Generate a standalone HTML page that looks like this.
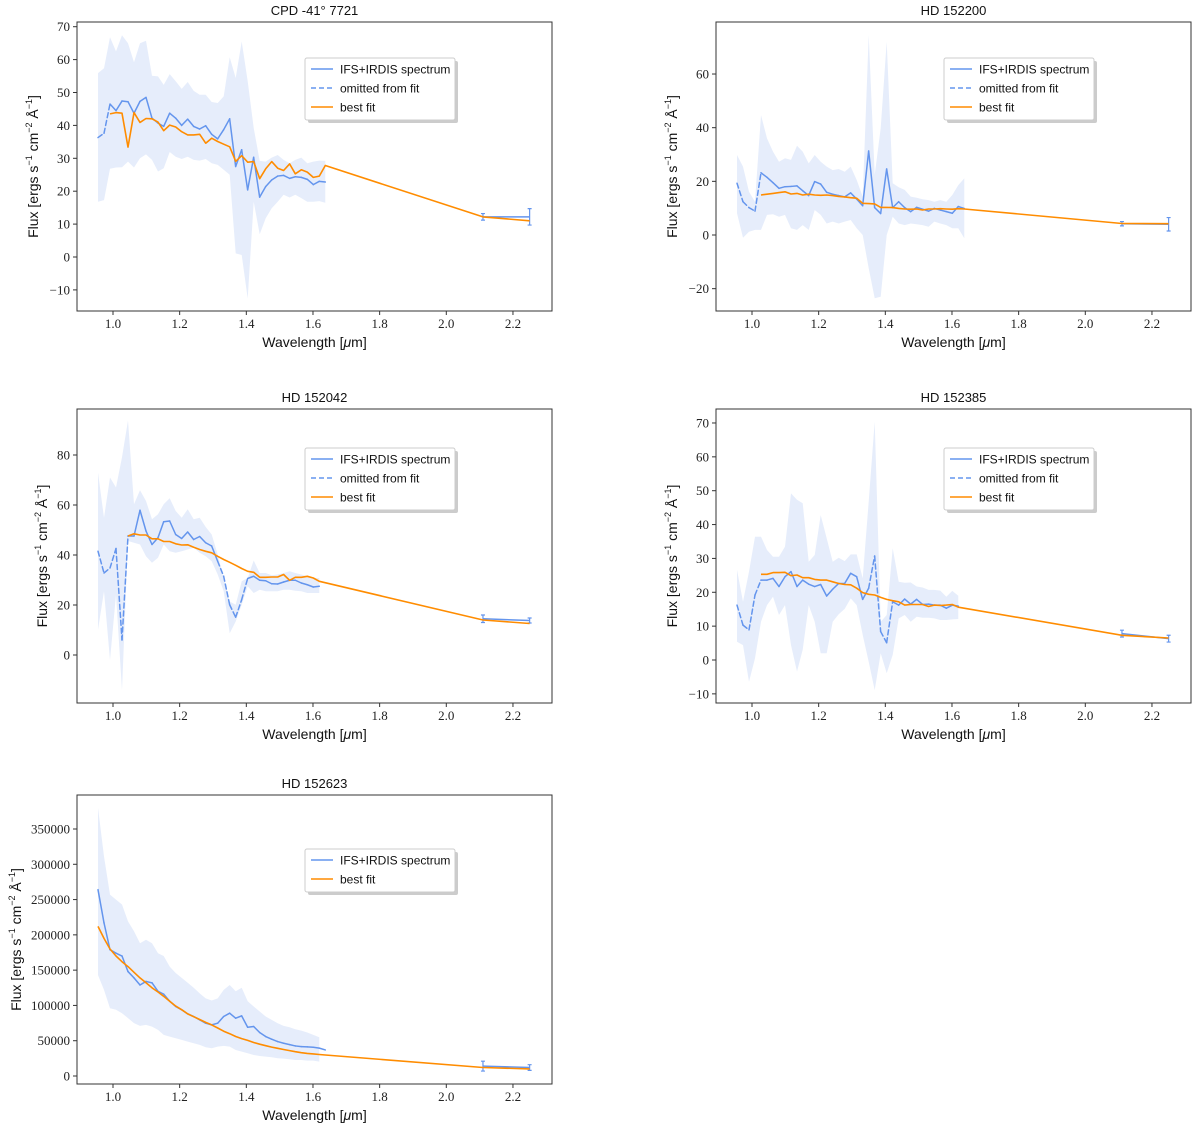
<!DOCTYPE html>
<html><head><meta charset="utf-8">
<style>
html,body{margin:0;padding:0;background:#fff;}
svg{display:block;}
.tick{font-family:"Liberation Serif","DejaVu Serif",serif;font-size:13px;fill:#222;}
.lab{font-family:"Liberation Sans","DejaVu Sans",sans-serif;font-size:14px;fill:#111;}
.ttl{font-family:"Liberation Sans","DejaVu Sans",sans-serif;font-size:13px;fill:#111;}
.leg{font-family:"Liberation Sans","DejaVu Sans",sans-serif;font-size:12px;fill:#111;}
</style></head>
<body>
<svg id="fig" width="1200" height="1126" viewBox="0 0 1200 1126" xmlns="http://www.w3.org/2000/svg"></svg>
<script>
// ---- shared data ----
const WL = [0.955,0.973,0.991,1.009,1.027,1.045,1.063,1.081,1.099,1.117,1.135,1.152,1.170,1.188,1.206,1.224,1.242,1.260,1.278,1.296,1.314,1.332,1.350,1.368,1.386,1.404,1.422,1.440,1.458,1.476,1.494,1.512,1.530,1.547,1.565,1.583,1.601,1.619,1.637];
const PHOT_WL = [2.11, 2.25];
const X_TICKS = [1.0,1.2,1.4,1.6,1.8,2.0,2.2];

// ---- panel 1: CPD -41 7721 ----
const p1Flux = [36.3,37.6,46.5,44.5,47.4,47.2,43.7,47.3,48.5,42.2,40.7,39.7,43.7,42.2,40.0,41.9,39.7,38.9,39.9,37.3,35.9,38.7,42.0,27.5,32.6,20.4,30.3,18.2,21.4,23.4,24.6,24.8,23.9,24.4,24.2,23.6,22.0,23.0,22.8];
const p1Hi = [55.9,57.4,66.8,62.5,67.4,65.0,59.2,65.0,65.7,55.1,54.9,52.3,55.6,53.4,51.1,53.2,50.5,49.3,49.3,47.1,46.8,48.8,60.7,54.4,65.5,53.4,39.2,29.2,29.0,30.2,31.0,29.5,28.5,29.5,30.2,28.5,29.0,29.3,29.2];
const p1Lo = [16.8,17.3,26.8,27.2,27.3,29.0,27.2,30.0,31.2,29.5,26.0,27.0,31.9,30.5,29.8,30.5,29.5,29.3,29.8,28.5,28.0,26.5,25.0,1.1,0.6,-12.6,16.8,6.9,11.8,14.8,16.8,18.9,18.1,18.9,17.9,16.8,16.8,17.0,16.5];
const p1FitStart = 2;
const p1Fit = [43.5,43.9,43.7,33.4,43.9,40.9,42.1,42.0,41.0,38.4,40.1,39.5,38.1,37.1,37.1,37.3,34.6,36.1,35.1,34.3,33.5,29.1,30.8,28.8,29.0,23.8,26.8,29.0,27.0,26.3,28.3,25.3,26.5,25.8,24.2,24.6,27.8];
const p1PhotFlux = [12.2, 12.2];
const p1PhotErr = [1.0, 2.5];
const p1PhotFit = [12.2, 11.0];
const p1Omitted = [[0,2]];
const p1YTicks = [-10,0,10,20,30,40,50,60,70];

// ---- panel 2: HD 152200 ----
const p2Flux = [19.3,12.4,10.2,8.9,23.2,21.5,19.5,17.4,18.0,18.1,18.3,16.5,14.7,19.9,19.0,15.9,15.2,14.7,14.2,15.7,13.4,10.9,31.3,10.2,8.0,24.6,10.2,12.4,10.2,8.7,10.3,9.6,8.9,9.9,9.3,8.7,8.1,10.6,9.9];
const p2Hi = [29.8,25.5,16.1,12.4,44.7,36.0,31.1,27.3,28.6,28.0,33.3,31.1,26.7,29.8,27.3,25.5,24.2,24.6,23.6,25.5,20.5,14.3,74.5,22.4,39.8,72.0,19.3,17.8,16.8,14.3,13.9,13.3,13.0,12.4,13.0,12.4,14.9,18.6,21.1];
const p2Lo = [8.1,-1.0,1.2,1.9,1.9,7.5,7.7,6.8,7.5,2.5,1.9,3.7,1.9,9.3,7.5,4.3,5.0,4.3,5.0,5.6,2.5,0,-12.4,-23.6,-23.0,0,6.8,4.3,3.7,4.3,4.0,3.7,3.1,5.0,4.3,3.7,2.5,2.5,-1.2];
const p2FitStart = 4;
const p2Fit = [14.9,15.2,15.5,15.8,16.1,15.3,15.5,14.9,15.2,14.9,14.8,14.9,14.7,14.4,14.2,13.9,13.7,11.8,11.7,11.6,10.3,10.3,10.2,9.9,9.7,9.6,9.7,9.3,9.7,9.7,9.8,9.7,9.6,9.8,9.7];
const p2PhotFlux = [4.2, 4.0];
const p2PhotErr = [0.8, 2.5];
const p2PhotFit = [4.3, 4.2];
const p2Omitted = [[0,4]];
const p2YTicks = [-20,0,20,40,60];

// ---- panel 3: HD 152042 ----
const p3Flux = [41.5,32.8,34.8,42.6,6.0,47.6,47.6,57.9,49.6,44.2,46.9,53.3,53.6,48.2,46.6,49.2,46.2,47.4,44.9,43.6,37.5,31.5,20.1,15.1,22.1,30.6,31.5,29.9,29.7,28.5,28.4,29.2,29.9,29.9,28.8,28.1,27.2,27.5];
const p3Hi = [73.0,54.9,71.0,67.0,79.1,93.8,60.3,65.9,61.6,54.3,56.3,60.3,62.7,57.6,54.9,58.3,54.3,54.9,51.2,48.2,40.2,30.8,21.4,20.1,29.5,30.8,37.8,32.8,32.8,31.9,32.2,32.8,33.5,32.8,32.2,31.5,30.8,30.8];
const p3Lo = [10.1,25.5,-2.0,24.1,-14.1,45.6,44.9,44.2,39.5,36.9,38.9,44.2,41.5,40.9,41.5,42.2,42.9,40.9,39.5,37.5,32.2,25.5,8.7,13.4,20.1,27.5,24.8,26.1,25.5,25.5,25.5,26.1,26.1,25.7,25.5,24.8,24.8,24.8];
const p3FitStart = 5;
const p3Fit = [47.6,48.5,48.0,48.0,46.5,46.5,45.4,45.4,44.5,44.0,44.1,43.1,42.2,41.5,40.9,39.5,38.2,37.1,35.9,34.6,33.5,33.1,31.1,31.1,31.2,31.2,32.2,29.9,31.1,31.1,31.5,30.8,29.5];
const p3PhotFlux = [14.5, 13.8];
const p3PhotErr = [1.5, 1.0];
const p3PhotFit = [14.0, 12.6];
const p3Omitted = [[0,5],[20,25]];
const p3YTicks = [0,20,40,60,80];

// ---- panel 4: HD 152385 ----
const p4Flux = [16.2,10.3,8.9,19.2,23.6,23.6,24.1,21.7,24.6,26.1,21.7,23.6,22.4,21.7,22.3,18.9,20.9,22.6,22.6,25.6,24.6,17.9,21.2,30.7,8.4,5.1,17.2,16.2,18.0,16.5,17.9,16.4,16.5,16.2,16.2,15.3,16.2,15.9];
const p4Hi = [26.6,17.2,26.1,36.4,36.4,32.5,30.5,30.5,33.5,49.2,47.3,46.3,29.0,31.0,42.8,35.9,29.0,30.2,29.2,31.2,31.2,24.1,46.8,70.4,11.3,13.3,33.0,23.1,22.8,22.9,21.7,21.4,20.7,20.7,20.5,18.7,20.4,19.0];
const p4Lo = [5.4,4.4,-6.4,0.5,11.3,16.2,18.7,13.3,16.2,4.4,-3.4,3.0,16.2,11.3,2.0,2.0,11.3,13.5,15.1,18.2,16.2,7.4,-0.5,-8.9,2.0,-3.9,1.5,12.3,13.3,11.3,12.8,12.5,12.5,12.3,11.8,11.8,12.0,12.1];
const p4FitStart = 4;
const p4Fit = [25.3,25.3,25.8,25.8,25.9,24.9,25.1,24.3,24.3,23.8,23.6,23.6,23.1,22.6,22.3,22.2,21.2,19.9,19.4,19.2,18.5,17.9,17.5,17.2,16.2,16.4,16.4,16.4,15.8,16.2,16.1,16.2,16.4,15.6];
const p4PhotFlux = [7.8, 6.3];
const p4PhotErr = [1.0, 1.0];
const p4PhotFit = [7.3, 6.5];
const p4Omitted = [[0,4],[22,26]];
const p4YTicks = [-10,0,10,20,30,40,50,60,70];

// ---- panel 5: HD 152623 (values in flux units) ----
const p5Flux = [264000,217000,179000,174000,170000,148000,139000,129000,134000,132000,120000,116000,106000,98500,93800,88100,84300,79500,74800,72400,74800,84300,89000,81900,85200,69100,70100,61600,55900,52100,48800,46400,44500,42600,41700,41200,40700,39500,36900];
const p5Hi = [380000,311000,257000,250000,243000,219000,205000,188000,193000,188000,174000,170000,155000,146000,139000,132000,125000,117000,110000,107000,110000,122000,129000,120000,125000,106000,98500,91400,84300,79500,74800,71000,69100,66300,64400,61600,58200,54900];
const p5Lo = [143000,122000,96000,94000,89000,82000,75000,71000,72400,70000,65300,58200,55900,53500,51100,48800,46400,44000,40700,39300,41700,42600,41700,36900,34600,32200,29800,28400,27500,26500,25100,24600,23700,22700,22700,21800,21800,20400];
const p5FitStart = 0;
const p5Fit = [212000,195000,180000,170000,162000,155000,147000,139000,132000,125000,119000,113000,106000,99000,94000,88000,84000,80000,76000,72400,68000,63500,60000,56000,53000,50500,47500,45000,43000,41000,39300,37500,36000,34500,33000,32000,31300,30500,29800];
const p5PhotFlux = [14000, 12000];
const p5PhotErr = [7000, 4000];
const p5PhotFit = [12000, 10000];
const p5Omitted = [];
const p5YTicks = [0,50000,100000,150000,200000,250000,300000,350000];

const BLUE = "#6495ED", ORANGE = "#FF8C00", BAND = "#E6EDFB";
const NS = "http://www.w3.org/2000/svg";
const fig = document.getElementById("fig");

function mk(tag, attrs, parent){
  const e = document.createElementNS(NS, tag);
  for (const k in attrs) e.setAttribute(k, attrs[k]);
  (parent||fig).appendChild(e);
  return e;
}

function drawPanel(P){
  const g = mk("g", {});
  
  
  const xs = v => P.x0 + (v - 1.0) * 333.3;
  const ys = v => P.yZero - v * P.ppu;
  // clip
  const cid = P.name + "-clip";
  const defs = mk("defs", {}, g);
  const cp = mk("clipPath", {id: cid}, defs);
  mk("rect", {x:P.L, y:P.T, width:P.R-P.L, height:P.B-P.T}, cp);
  const plot = mk("g", {"clip-path":"url(#"+cid+")"}, g);
  
  
  // band
  let d = "";
  P.hi.forEach((v,i)=>{ d += (i?"L":"M") + xs(WL[i]).toFixed(1) + "," + ys(v).toFixed(1); });
  for (let i = P.lo.length-1; i >= 0; i--) d += "L" + xs(WL[i]).toFixed(1) + "," + ys(P.lo[i]).toFixed(1);
  const band = mk("path", {d: d + "Z", fill: BAND, stroke: "none"}, plot);
  
  
  // spectrum (solid / dashed segments)
  const isOm = i => P.om.some(r => i >= r[0] && i < r[1]);
  for (let i = 0; i < P.flux.length-1; i++){
    const seg = mk("line", {x1: xs(WL[i]), y1: ys(P.flux[i]), x2: xs(WL[i+1]), y2: ys(P.flux[i+1]),
      stroke: BLUE, "stroke-width": 1.5, "stroke-linecap":"round",
      "stroke-dasharray": isOm(i) ? "5,3" : "none"}, plot);
    
    
  }
  // photometry
  let pd = "";
  P.pf.forEach((v,i)=>{ pd += (i?"L":"M") + xs(PHOT_WL[i]) + "," + ys(v); });
  const pl = mk("path", {d: pd, fill:"none", stroke: BLUE, "stroke-width": 1.5}, plot);
  
  
  P.pf.forEach((v,i)=>{
    const x = xs(PHOT_WL[i]);
    const eb = mk("path", {d: "M"+x+","+ys(v-P.pe[i])+"L"+x+","+ys(v+P.pe[i])+
      "M"+(x-2)+","+ys(v-P.pe[i])+"L"+(x+2)+","+ys(v-P.pe[i])+
      "M"+(x-2)+","+ys(v+P.pe[i])+"L"+(x+2)+","+ys(v+P.pe[i]),
      fill:"none", stroke: BLUE, "stroke-width": 1.2}, plot);
    
    
  });
  // fit
  let fd = "";
  P.fit.forEach((v,i)=>{ fd += (i?"L":"M") + xs(WL[P.fs+i]).toFixed(1) + "," + ys(v).toFixed(1); });
  P.pfit.forEach((v)=>{}); 
  P.pfit.forEach((v,i)=>{ fd += "L" + xs(PHOT_WL[i]).toFixed(1) + "," + ys(v).toFixed(1); });
  const fl = mk("path", {d: fd, fill:"none", stroke: ORANGE, "stroke-width": 1.6, "stroke-linejoin":"round"}, plot);
  
  
  // frame
  const fr = mk("rect", {x:P.L, y:P.T, width:P.R-P.L, height:P.B-P.T, fill:"none", stroke:"#333", "stroke-width":1}, g);
  
  
  // x ticks
  X_TICKS.forEach(t=>{
    const x = xs(t);
    const tk = mk("line", {x1:x, y1:P.B, x2:x, y2:P.B+4, stroke:"#333"}, g);
    
    
    const tl = mk("text", {x:x, y:P.B+17, "text-anchor":"middle", class:"tick"}, g);
    tl.textContent = t.toFixed(1);
    
    
  });
  // y ticks
  P.yt.forEach(t=>{
    const y = ys(t);
    const tk = mk("line", {x1:P.L-4, y1:y, x2:P.L, y2:y, stroke:"#333"}, g);
    
    
    const tl = mk("text", {x:P.L-7, y:y+4.5, "text-anchor":"end", class:"tick"}, g);
    tl.textContent = t < 0 ? "\u2212" + Math.abs(t) : String(t);
    
    
  });
  // title
  const ti = mk("text", {x:(P.L+P.R)/2, y:P.T-7, "text-anchor":"middle", class:"ttl"}, g);
  ti.textContent = P.title;
  
  
  // x label
  const xl = mk("text", {x:(P.L+P.R)/2, y:P.B+36, "text-anchor":"middle", class:"lab"}, g);
  xl.innerHTML = 'Wavelength [<tspan font-style="italic">\u03bc</tspan>m]';
  
  
  // y label
  const yc = (P.T+P.B)/2;
  const yl = mk("text", {x:P.ylx, y:yc, "text-anchor":"middle", class:"lab", transform:"rotate(-90 "+P.ylx+" "+yc+")"}, g);
  yl.innerHTML = 'Flux [ergs s<tspan dy="-6" font-size="9">\u22121</tspan><tspan dy="6"> cm</tspan><tspan dy="-6" font-size="9">\u22122</tspan><tspan dy="6"> \u00c5</tspan><tspan dy="-6" font-size="9">\u22121</tspan><tspan dy="6">]</tspan>';
  
  
  // legend
  const n = P.threeLeg ? 3 : 2;
  const lx = P.L + 228, ly = P.legY;
  const lg = mk("g", {}, g);
  
  
  mk("rect", {x:lx+3, y:ly+3, width:150, height:n*19+5, rx:2, fill:"#999", opacity:0.5}, lg);
  mk("rect", {x:lx, y:ly, width:150, height:n*19+5, rx:2, fill:"#fff", stroke:"#ccc"}, lg);
  const entries = P.threeLeg
    ? [["IFS+IRDIS spectrum",BLUE,"none"],["omitted from fit",BLUE,"5,3"],["best fit",ORANGE,"none"]]
    : [["IFS+IRDIS spectrum",BLUE,"none"],["best fit",ORANGE,"none"]];
  entries.forEach((e,i)=>{
    const y = ly + 11 + i*19;
    const ln = mk("line", {x1:lx+6, y1:y, x2:lx+28, y2:y, stroke:e[1], "stroke-width":1.6, "stroke-dasharray":e[2]}, lg);
    
    
    const tx = mk("text", {x:lx+35, y:y+4.5, class:"leg"}, lg);
    tx.textContent = e[0];
    
    
  });
}

drawPanel({name:"panel-cpd-41-7721", title:"CPD -41\u00b0 7721", L:77, R:552, T:22, B:311, x0:113, yZero:257, ppu:3.29,
  flux:p1Flux, hi:p1Hi, lo:p1Lo, fs:p1FitStart, fit:p1Fit, pf:p1PhotFlux, pe:p1PhotErr, pfit:p1PhotFit, om:p1Omitted, yt:p1YTicks, ylx:38, legY:58, threeLeg:true});
drawPanel({name:"panel-hd-152200", title:"HD 152200", L:716, R:1191, T:22, B:311, x0:752, yZero:235, ppu:2.683,
  flux:p2Flux, hi:p2Hi, lo:p2Lo, fs:p2FitStart, fit:p2Fit, pf:p2PhotFlux, pe:p2PhotErr, pfit:p2PhotFit, om:p2Omitted, yt:p2YTicks, ylx:677, legY:58, threeLeg:true});
drawPanel({name:"panel-hd-152042", title:"HD 152042", L:77, R:552, T:409, B:703, x0:113, yZero:655, ppu:2.5,
  flux:p3Flux, hi:p3Hi, lo:p3Lo, fs:p3FitStart, fit:p3Fit, pf:p3PhotFlux, pe:p3PhotErr, pfit:p3PhotFit, om:p3Omitted, yt:p3YTicks, ylx:47, legY:448, threeLeg:true});
drawPanel({name:"panel-hd-152385", title:"HD 152385", L:716, R:1191, T:409, B:703, x0:752, yZero:660, ppu:3.386,
  flux:p4Flux, hi:p4Hi, lo:p4Lo, fs:p4FitStart, fit:p4Fit, pf:p4PhotFlux, pe:p4PhotErr, pfit:p4PhotFit, om:p4Omitted, yt:p4YTicks, ylx:677, legY:448, threeLeg:true});
drawPanel({name:"panel-hd-152623", title:"HD 152623", L:77, R:552, T:795, B:1084, x0:113, yZero:1076, ppu:247/350000,
  flux:p5Flux, hi:p5Hi, lo:p5Lo, fs:p5FitStart, fit:p5Fit, pf:p5PhotFlux, pe:p5PhotErr, pfit:p5PhotFit, om:p5Omitted, yt:p5YTicks, ylx:21, legY:849, threeLeg:false});
</script>
</body></html>
